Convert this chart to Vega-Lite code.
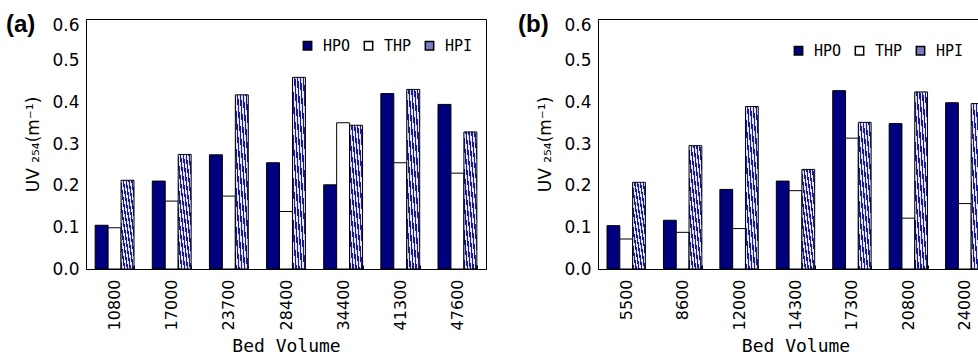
{
  "$schema": "https://vega.github.io/schema/vega-lite/v6.json",
  "padding": {"left": 5, "top": 12, "right": 0, "bottom": 0},
  "background": "white",
  "datasets": {
    "a": [
      {"bv": "10800", "series": "HPO", "v": 0.105}, {"bv": "10800", "series": "THP", "v": 0.099}, {"bv": "10800", "series": "HPI", "v": 0.213},
      {"bv": "17000", "series": "HPO", "v": 0.211}, {"bv": "17000", "series": "THP", "v": 0.163}, {"bv": "17000", "series": "HPI", "v": 0.275},
      {"bv": "23700", "series": "HPO", "v": 0.274}, {"bv": "23700", "series": "THP", "v": 0.175}, {"bv": "23700", "series": "HPI", "v": 0.418},
      {"bv": "28400", "series": "HPO", "v": 0.255}, {"bv": "28400", "series": "THP", "v": 0.138}, {"bv": "28400", "series": "HPI", "v": 0.460},
      {"bv": "34400", "series": "HPO", "v": 0.202}, {"bv": "34400", "series": "THP", "v": 0.351}, {"bv": "34400", "series": "HPI", "v": 0.345},
      {"bv": "41300", "series": "HPO", "v": 0.421}, {"bv": "41300", "series": "THP", "v": 0.255}, {"bv": "41300", "series": "HPI", "v": 0.431},
      {"bv": "47600", "series": "HPO", "v": 0.395}, {"bv": "47600", "series": "THP", "v": 0.230}, {"bv": "47600", "series": "HPI", "v": 0.329}
    ],
    "b": [
      {"bv": "5500", "series": "HPO", "v": 0.104}, {"bv": "5500", "series": "THP", "v": 0.072}, {"bv": "5500", "series": "HPI", "v": 0.208},
      {"bv": "8600", "series": "HPO", "v": 0.117}, {"bv": "8600", "series": "THP", "v": 0.088}, {"bv": "8600", "series": "HPI", "v": 0.296},
      {"bv": "12000", "series": "HPO", "v": 0.191}, {"bv": "12000", "series": "THP", "v": 0.097}, {"bv": "12000", "series": "HPI", "v": 0.390},
      {"bv": "14300", "series": "HPO", "v": 0.211}, {"bv": "14300", "series": "THP", "v": 0.188}, {"bv": "14300", "series": "HPI", "v": 0.239},
      {"bv": "17300", "series": "HPO", "v": 0.428}, {"bv": "17300", "series": "THP", "v": 0.314}, {"bv": "17300", "series": "HPI", "v": 0.352},
      {"bv": "20800", "series": "HPO", "v": 0.349}, {"bv": "20800", "series": "THP", "v": 0.122}, {"bv": "20800", "series": "HPI", "v": 0.425},
      {"bv": "24000", "series": "HPO", "v": 0.399}, {"bv": "24000", "series": "THP", "v": 0.157}, {"bv": "24000", "series": "HPI", "v": 0.397}
    ]
  },
  "spacing": 30,
  "resolve": {
    "scale": {"x": "independent", "y": "independent", "color": "independent", "xOffset": "independent"},
    "legend": {"color": "independent"}
  },
  "config": {
    "view": {"stroke": "black", "strokeWidth": 1},
    "axis": {"domainColor": "black", "labelColor": "black", "titleColor": "black", "tickColor": "black", "grid": false},
    "title": {"color": "black"}
  },
  "hconcat": [
    {
      "width": 400,
      "height": 250,
      "title": {"text": "(a)", "anchor": "start", "frame": "group", "dx": -80, "dy": 1, "offset": -20, "fontSize": 24, "fontWeight": "bold", "font": "Liberation Sans", "baseline": "top"},
      "data": {"name": "a"},
      "mark": {"type": "bar", "stroke": "black", "strokeWidth": 1},
      "encoding": {
        "x": {"field": "bv", "type": "nominal", "sort": null,
          "scale": {"paddingInner": 0.32, "paddingOuter": 0.16},
          "axis": {"title": "Bed Volume", "labelAngle": -90, "tickBand": "extent", "tickSize": -4, "labelPadding": 14, "labelFont": "DejaVu Sans", "labelFontSize": 16, "titleFont": "DejaVu Sans Mono", "titleFontSize": 18, "titleFontWeight": "normal", "titlePadding": 8}},
        "xOffset": {"field": "series", "type": "nominal", "sort": ["HPO", "THP", "HPI"], "scale": {"paddingInner": 0, "paddingOuter": 0}},
        "y": {"field": "v", "type": "quantitative", "scale": {"domain": [0, 0.6]},
          "axis": {"title": "UV ₂₅₄(m⁻¹)", "values": [0, 0.1, 0.2, 0.3, 0.4, 0.5, 0.6], "format": ".1f", "ticks": false, "labelPadding": 7, "labelFont": "DejaVu Sans", "labelFontSize": 17, "labelOffset": {"condition": {"test": "datum.value > 0.55", "value": 6}, "value": 0}, "titleFont": "DejaVu Sans", "titleFontSize": 17, "titleFontWeight": "normal", "titlePadding": 9}},
        "color": {
          "condition": {"test": "datum.series === 'HPI'", "value": {"gradient": "linear", "x1": 0, "y1": 1, "x2": 1, "y2": 0, "stops": [
            {"offset": 0, "color": "#1a1a8a"}, {"offset": 0.0556, "color": "#1a1a8a"}, {"offset": 0.0556, "color": "#e4e4f8"}, {"offset": 0.1111, "color": "#e4e4f8"},
            {"offset": 0.1111, "color": "#1a1a8a"}, {"offset": 0.1667, "color": "#1a1a8a"}, {"offset": 0.1667, "color": "#e4e4f8"}, {"offset": 0.2222, "color": "#e4e4f8"},
            {"offset": 0.2222, "color": "#1a1a8a"}, {"offset": 0.2778, "color": "#1a1a8a"}, {"offset": 0.2778, "color": "#e4e4f8"}, {"offset": 0.3333, "color": "#e4e4f8"},
            {"offset": 0.3333, "color": "#1a1a8a"}, {"offset": 0.3889, "color": "#1a1a8a"}, {"offset": 0.3889, "color": "#e4e4f8"}, {"offset": 0.4444, "color": "#e4e4f8"},
            {"offset": 0.4444, "color": "#1a1a8a"}, {"offset": 0.5, "color": "#1a1a8a"}, {"offset": 0.5, "color": "#e4e4f8"}, {"offset": 0.5556, "color": "#e4e4f8"},
            {"offset": 0.5556, "color": "#1a1a8a"}, {"offset": 0.6111, "color": "#1a1a8a"}, {"offset": 0.6111, "color": "#e4e4f8"}, {"offset": 0.6667, "color": "#e4e4f8"},
            {"offset": 0.6667, "color": "#1a1a8a"}, {"offset": 0.7222, "color": "#1a1a8a"}, {"offset": 0.7222, "color": "#e4e4f8"}, {"offset": 0.7778, "color": "#e4e4f8"},
            {"offset": 0.7778, "color": "#1a1a8a"}, {"offset": 0.8333, "color": "#1a1a8a"}, {"offset": 0.8333, "color": "#e4e4f8"}, {"offset": 0.8889, "color": "#e4e4f8"},
            {"offset": 0.8889, "color": "#1a1a8a"}, {"offset": 0.9444, "color": "#1a1a8a"}, {"offset": 0.9444, "color": "#e4e4f8"}, {"offset": 1, "color": "#e4e4f8"}
          ]}},
          "field": "series", "type": "nominal", "sort": ["HPO", "THP", "HPI"],
          "scale": {"domain": ["HPO", "THP", "HPI"], "range": ["#00007f", "#ffffff", "#7c7cc0"]},
          "legend": {"title": null, "orient": "none", "legendX": 214, "legendY": 19, "direction": "horizontal", "symbolType": "square", "symbolSize": 70, "labelFont": "DejaVu Sans Mono", "labelFontSize": 15, "labelColor": "black", "labelOffset": 8, "columnPadding": 10,
            "encode": {"symbols": {"update": {"stroke": {"value": "black"}, "strokeWidth": {"value": 1}, "fill": [
              {"test": "datum.value === 'HPI'", "value": {"gradient": "linear", "x1": 0, "y1": 1, "x2": 1, "y2": 0, "stops": [
                {"offset": 0, "color": "#1a1a8a"}, {"offset": 0.1, "color": "#1a1a8a"}, {"offset": 0.1, "color": "#e4e4f8"}, {"offset": 0.2, "color": "#e4e4f8"},
                {"offset": 0.2, "color": "#1a1a8a"}, {"offset": 0.3, "color": "#1a1a8a"}, {"offset": 0.3, "color": "#e4e4f8"}, {"offset": 0.4, "color": "#e4e4f8"},
                {"offset": 0.4, "color": "#1a1a8a"}, {"offset": 0.5, "color": "#1a1a8a"}, {"offset": 0.5, "color": "#e4e4f8"}, {"offset": 0.6, "color": "#e4e4f8"},
                {"offset": 0.6, "color": "#1a1a8a"}, {"offset": 0.7, "color": "#1a1a8a"}, {"offset": 0.7, "color": "#e4e4f8"}, {"offset": 0.8, "color": "#e4e4f8"},
                {"offset": 0.8, "color": "#1a1a8a"}, {"offset": 0.9, "color": "#1a1a8a"}, {"offset": 0.9, "color": "#e4e4f8"}, {"offset": 1, "color": "#e4e4f8"}
              ]}},
              {"test": "datum.value === 'HPO'", "value": "#00007f"},
              {"value": "#ffffff"}
            ]}}}}
        }
      }
    },
    {
      "width": 395,
      "height": 250,
      "title": {"text": "(b)", "anchor": "start", "frame": "group", "dx": -80, "dy": 1, "offset": -20, "fontSize": 24, "fontWeight": "bold", "font": "Liberation Sans", "baseline": "top"},
      "data": {"name": "b"},
      "mark": {"type": "bar", "stroke": "black", "strokeWidth": 1},
      "encoding": {
        "x": {"field": "bv", "type": "nominal", "sort": null,
          "scale": {"paddingInner": 0.32, "paddingOuter": 0.16},
          "axis": {"title": "Bed Volume", "labelAngle": -90, "tickBand": "extent", "tickSize": -4, "labelPadding": 14, "labelFont": "DejaVu Sans", "labelFontSize": 16, "titleFont": "DejaVu Sans Mono", "titleFontSize": 18, "titleFontWeight": "normal", "titlePadding": 8}},
        "xOffset": {"field": "series", "type": "nominal", "sort": ["HPO", "THP", "HPI"], "scale": {"paddingInner": 0, "paddingOuter": 0}},
        "y": {"field": "v", "type": "quantitative", "scale": {"domain": [0, 0.6]},
          "axis": {"title": "UV ₂₅₄(m⁻¹)", "values": [0, 0.1, 0.2, 0.3, 0.4, 0.5, 0.6], "format": ".1f", "ticks": false, "labelPadding": 7, "labelFont": "DejaVu Sans", "labelFontSize": 17, "labelOffset": {"condition": {"test": "datum.value > 0.55", "value": 6}, "value": 0}, "titleFont": "DejaVu Sans", "titleFontSize": 17, "titleFontWeight": "normal", "titlePadding": 9}},
        "color": {
          "condition": {"test": "datum.series === 'HPI'", "value": {"gradient": "linear", "x1": 0, "y1": 1, "x2": 1, "y2": 0, "stops": [
            {"offset": 0, "color": "#1a1a8a"}, {"offset": 0.0556, "color": "#1a1a8a"}, {"offset": 0.0556, "color": "#e4e4f8"}, {"offset": 0.1111, "color": "#e4e4f8"},
            {"offset": 0.1111, "color": "#1a1a8a"}, {"offset": 0.1667, "color": "#1a1a8a"}, {"offset": 0.1667, "color": "#e4e4f8"}, {"offset": 0.2222, "color": "#e4e4f8"},
            {"offset": 0.2222, "color": "#1a1a8a"}, {"offset": 0.2778, "color": "#1a1a8a"}, {"offset": 0.2778, "color": "#e4e4f8"}, {"offset": 0.3333, "color": "#e4e4f8"},
            {"offset": 0.3333, "color": "#1a1a8a"}, {"offset": 0.3889, "color": "#1a1a8a"}, {"offset": 0.3889, "color": "#e4e4f8"}, {"offset": 0.4444, "color": "#e4e4f8"},
            {"offset": 0.4444, "color": "#1a1a8a"}, {"offset": 0.5, "color": "#1a1a8a"}, {"offset": 0.5, "color": "#e4e4f8"}, {"offset": 0.5556, "color": "#e4e4f8"},
            {"offset": 0.5556, "color": "#1a1a8a"}, {"offset": 0.6111, "color": "#1a1a8a"}, {"offset": 0.6111, "color": "#e4e4f8"}, {"offset": 0.6667, "color": "#e4e4f8"},
            {"offset": 0.6667, "color": "#1a1a8a"}, {"offset": 0.7222, "color": "#1a1a8a"}, {"offset": 0.7222, "color": "#e4e4f8"}, {"offset": 0.7778, "color": "#e4e4f8"},
            {"offset": 0.7778, "color": "#1a1a8a"}, {"offset": 0.8333, "color": "#1a1a8a"}, {"offset": 0.8333, "color": "#e4e4f8"}, {"offset": 0.8889, "color": "#e4e4f8"},
            {"offset": 0.8889, "color": "#1a1a8a"}, {"offset": 0.9444, "color": "#1a1a8a"}, {"offset": 0.9444, "color": "#e4e4f8"}, {"offset": 1, "color": "#e4e4f8"}
          ]}},
          "field": "series", "type": "nominal", "sort": ["HPO", "THP", "HPI"],
          "scale": {"domain": ["HPO", "THP", "HPI"], "range": ["#00007f", "#ffffff", "#7c7cc0"]},
          "legend": {"title": null, "orient": "none", "legendX": 193, "legendY": 24, "direction": "horizontal", "symbolType": "square", "symbolSize": 70, "labelFont": "DejaVu Sans Mono", "labelFontSize": 15, "labelColor": "black", "labelOffset": 8, "columnPadding": 10,
            "encode": {"symbols": {"update": {"stroke": {"value": "black"}, "strokeWidth": {"value": 1}, "fill": [
              {"test": "datum.value === 'HPI'", "value": {"gradient": "linear", "x1": 0, "y1": 1, "x2": 1, "y2": 0, "stops": [
                {"offset": 0, "color": "#1a1a8a"}, {"offset": 0.1, "color": "#1a1a8a"}, {"offset": 0.1, "color": "#e4e4f8"}, {"offset": 0.2, "color": "#e4e4f8"},
                {"offset": 0.2, "color": "#1a1a8a"}, {"offset": 0.3, "color": "#1a1a8a"}, {"offset": 0.3, "color": "#e4e4f8"}, {"offset": 0.4, "color": "#e4e4f8"},
                {"offset": 0.4, "color": "#1a1a8a"}, {"offset": 0.5, "color": "#1a1a8a"}, {"offset": 0.5, "color": "#e4e4f8"}, {"offset": 0.6, "color": "#e4e4f8"},
                {"offset": 0.6, "color": "#1a1a8a"}, {"offset": 0.7, "color": "#1a1a8a"}, {"offset": 0.7, "color": "#e4e4f8"}, {"offset": 0.8, "color": "#e4e4f8"},
                {"offset": 0.8, "color": "#1a1a8a"}, {"offset": 0.9, "color": "#1a1a8a"}, {"offset": 0.9, "color": "#e4e4f8"}, {"offset": 1, "color": "#e4e4f8"}
              ]}},
              {"test": "datum.value === 'HPO'", "value": "#00007f"},
              {"value": "#ffffff"}
            ]}}}}
        }
      }
    }
  ]
}
